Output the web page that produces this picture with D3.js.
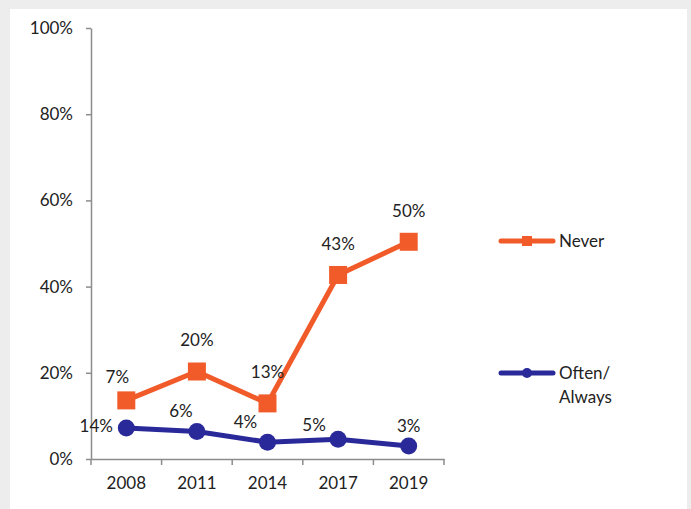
<!DOCTYPE html>
<html>
<head>
<meta charset="utf-8">
<script src="https://cdn.jsdelivr.net/npm/d3@7"></script>
<style>
  body { margin: 0; background: #ededed; }
  svg text { font-family: Lato, "Noto Sans", sans-serif; fill: #222; }
</style>
</head>
<body>
<div id="chart"></div>
<script>
const years = ['2008', '2011', '2014', '2017', '2019'];
const neverValues = [13.6, 20.3, 12.9, 42.7, 50.4];
const oftenValues = [7.2, 6.4, 3.9, 4.6, 3.0];
const neverLabels = ['7%', '20%', '13%', '43%', '50%'];
const oftenLabels = ['14%', '6%', '4%', '5%', '3%'];
const yTicks = [0, 20, 40, 60, 80, 100];

const w = 691,
      h = 509;

const orange = '#f15a29',
      blue = '#29299a',
      axisGray = '#8c8c8c';

// label nudges (dx, dy) relative to each point
const neverNudge = [[-9, -23], [0, -31], [0, -31], [0, -31], [0, -31]];
const oftenNudge = [[-30, -2], [-16, -20], [-22, -20], [-24, -14], [0, -20]];

const svg = d3.select('#chart')
  .append('svg')
  .attr('width', w)
  .attr('height', h);

svg.append('rect')
   .attr('x', 10)
   .attr('y', 9)
   .attr('width', 677)
   .attr('height', h - 9)
   .attr('fill', '#fff');

const x = d3.scaleBand()
  .domain(years)
  .range([91, 444]);

const y = d3.scaleLinear()
  .domain([0, 100])
  .range([459, 28]);

const cx = d => x(d) + x.bandwidth() / 2;

// y axis
const yAxis = svg.append('g')
  .attr('transform', 'translate(91, 0)')
  .call(d3.axisLeft(y).tickValues(yTicks).tickFormat(d => d + '%').tickSize(5).tickPadding(13).tickSizeOuter(0));

// x axis (labels only, boundary ticks drawn below)
const xAxis = svg.append('g')
  .attr('transform', 'translate(0, 459)')
  .call(d3.axisBottom(x).tickSize(0).tickPadding(18).tickSizeOuter(0));

[yAxis, xAxis].forEach(g => {
  g.selectAll('path.domain').attr('stroke', axisGray).attr('stroke-width', 1.5);
  g.selectAll('.tick line').attr('stroke', axisGray).attr('stroke-width', 1.5);
  g.selectAll('.tick text').style('font-size', '17px').attr('fill', '#222');
});

const bounds = years.map(d => x(d)).concat([x(years[years.length - 1]) + x.bandwidth()]);
svg.append('g')
   .selectAll('line')
   .data(bounds)
   .enter()
   .append('line')
   .attr('x1', d => d)
   .attr('x2', d => d)
   .attr('y1', 459)
   .attr('y2', 465)
   .attr('stroke', axisGray)
   .attr('stroke-width', 1.5);

const line = d3.line()
  .x((d, i) => cx(years[i]))
  .y(d => y(d));

// Often/Always series
svg.append('path')
   .datum(oftenValues)
   .attr('d', line)
   .attr('fill', 'none')
   .attr('stroke', blue)
   .attr('stroke-width', 5);

svg.append('g')
   .selectAll('circle')
   .data(oftenValues)
   .enter()
   .append('circle')
   .attr('cx', (d, i) => cx(years[i]))
   .attr('cy', d => y(d))
   .attr('r', 8.5)
   .attr('fill', blue);

// Never series
svg.append('path')
   .datum(neverValues)
   .attr('d', line)
   .attr('fill', 'none')
   .attr('stroke', orange)
   .attr('stroke-width', 5);

const sq = 18;
svg.append('g')
   .selectAll('rect')
   .data(neverValues)
   .enter()
   .append('rect')
   .attr('x', (d, i) => cx(years[i]) - sq / 2)
   .attr('y', d => y(d) - sq / 2)
   .attr('width', sq)
   .attr('height', sq)
   .attr('fill', orange);

// data labels
function addLabels(values, labels, nudge) {
  svg.append('g')
     .selectAll('text')
     .data(values)
     .enter()
     .append('text')
     .attr('x', (d, i) => cx(years[i]) + nudge[i][0])
     .attr('y', (d, i) => y(d) + nudge[i][1])
     .attr('dy', '0.35em')
     .attr('text-anchor', 'middle')
     .style('font-size', '17px')
     .text((d, i) => labels[i]);
}
addLabels(neverValues, neverLabels, neverNudge);
addLabels(oftenValues, oftenLabels, oftenNudge);

// legend
const legendInfo = [
  { color: orange, shape: 'square', lines: ['Never'], y: 241 },
  { color: blue, shape: 'circle', lines: ['Often/', 'Always'], y: 373 }
];

const legend = svg.append('g')
  .selectAll('g')
  .data(legendInfo)
  .enter()
  .append('g')
  .attr('transform', d => `translate(499, ${d.y})`);

legend.append('line')
      .attr('x1', 2)
      .attr('x2', 54)
      .attr('stroke', d => d.color)
      .attr('stroke-width', 5)
      .attr('stroke-linecap', 'round');

legend.filter(d => d.shape === 'square')
      .append('rect')
      .attr('x', 23)
      .attr('y', -5)
      .attr('width', 10)
      .attr('height', 10)
      .attr('fill', d => d.color);

legend.filter(d => d.shape === 'circle')
      .append('circle')
      .attr('cx', 28)
      .attr('r', 5)
      .attr('fill', d => d.color);

legend.each(function(d) {
  const t = d3.select(this).append('text')
    .attr('x', 60)
    .attr('y', 0)
    .attr('dy', '0.35em')
    .style('font-size', '17px');
  d.lines.forEach((l, i) => {
    t.append('tspan').attr('x', 60).attr('dy', i === 0 ? '0.35em' : '24px').text(l);
  });
});
</script>
</body>
</html>
